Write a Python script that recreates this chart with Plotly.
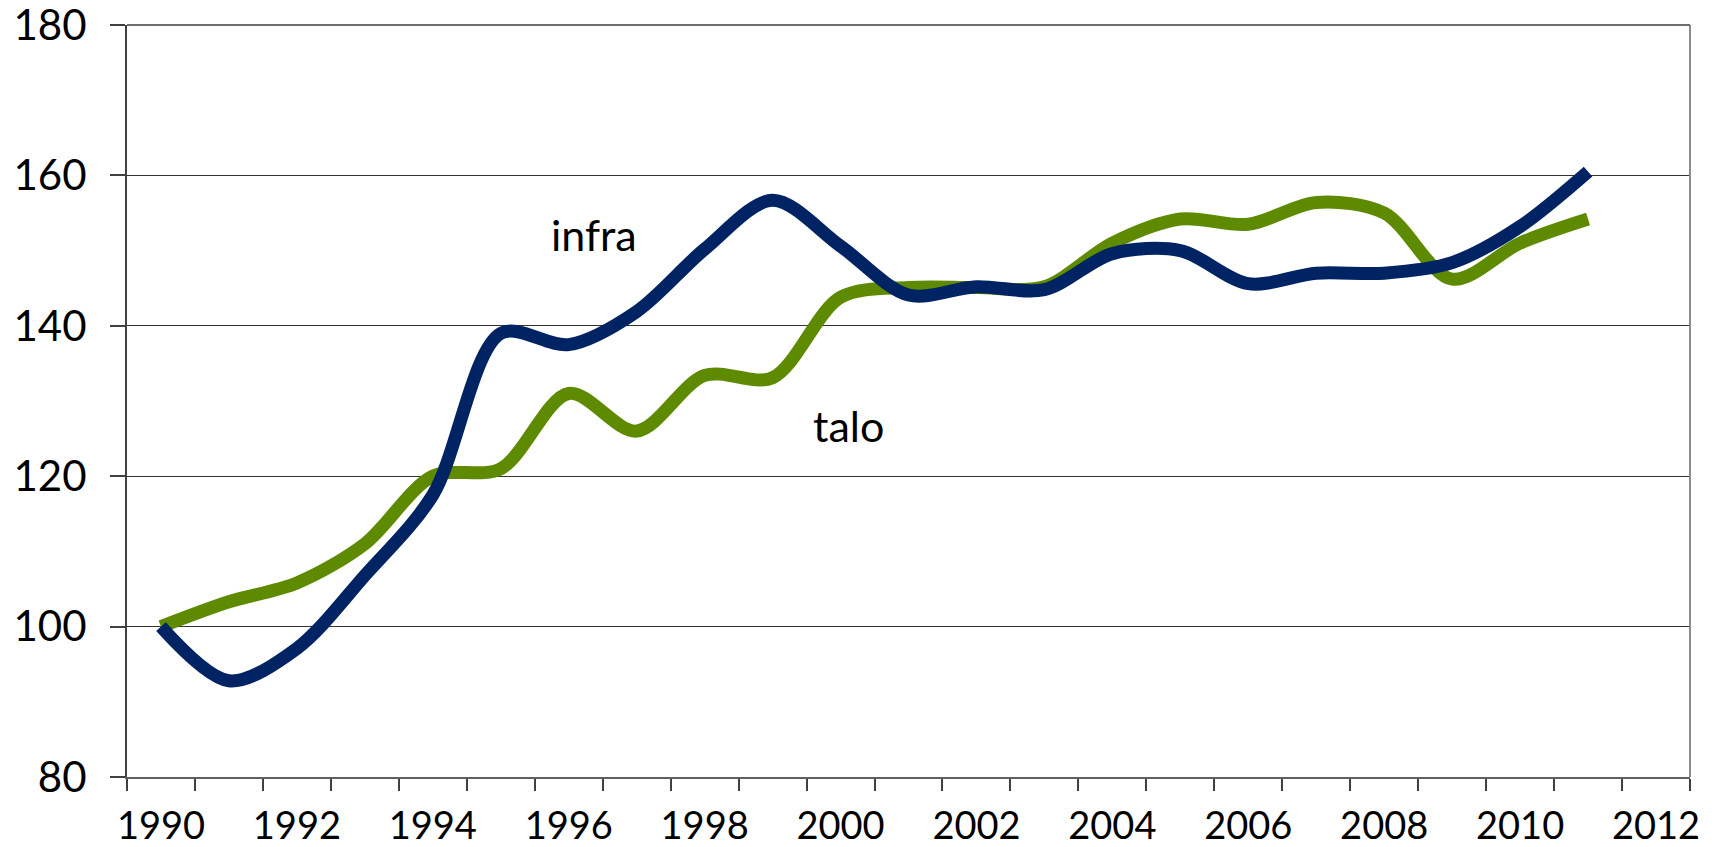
import plotly.graph_objects as go

years = list(range(1990, 2012))
infra = [100, 92.8, 97.1, 106.8, 117.5, 139.0, 137.5, 141.9, 150.2, 156.7, 150.6,
         144.1, 145.2, 144.8, 149.6, 150.0, 145.6, 147.0, 147.0, 148.4, 153.2, 160.5]
talo = [100, 103.3, 105.8, 111.0, 120.0, 121.0, 131.0, 126.0, 133.4, 133.1, 143.8,
        145.1, 145.1, 145.2, 151.0, 154.2, 153.5, 156.4, 155.0, 146.2, 151.0, 154.2]
x_ticks = list(range(1990, 2013, 2))
y_ticks = [80, 100, 120, 140, 160, 180]

FONT = "Lato"

fig = go.Figure()
fig.add_trace(go.Scatter(x=years, y=talo, mode="lines", name="talo",
                         line=dict(color="#5E8A00", width=13, shape="spline", smoothing=0.9)))
fig.add_trace(go.Scatter(x=years, y=infra, mode="lines", name="infra",
                         line=dict(color="#002463", width=13, shape="spline", smoothing=0.9)))

fig.add_annotation(x=1996.37, y=152.1, text="infra", showarrow=False,
                   font=dict(family=FONT, size=43, color="black"))
fig.add_annotation(x=2000.12, y=126.8, text="talo", showarrow=False,
                   font=dict(family=FONT, size=43, color="black"))

# page body has an 8px margin, so the figure is sized to fit inside the window
fig.update_layout(
    width=1700, height=831,
    margin=dict(l=119, r=18, t=17, b=62, autoexpand=False),
    paper_bgcolor="white", plot_bgcolor="white",
    showlegend=False,
    font=dict(family=FONT, color="black"),
)
fig.update_xaxes(
    range=[1989.5, 2012.5], tickvals=x_ticks, ticks="", showgrid=False,
    tickfont=dict(family=FONT, size=38, color="black"), ticklabelstandoff=14,
    ticklabeloverflow="allow",
    showline=True, linecolor="#606060", linewidth=2, mirror=False,
    minor=dict(ticks="outside", tick0=1989.5, dtick=1, ticklen=12, tickwidth=1.5,
               tickcolor="#404040", showgrid=False),
    zeroline=False, fixedrange=True, automargin=False,
)
fig.update_yaxes(
    range=[80, 180], tickvals=y_ticks, ticks="outside", ticklen=15, tickwidth=1.5,
    tickcolor="#404040", ticklabelstandoff=15, ticklabeloverflow="allow",
    tickfont=dict(family=FONT, size=42, color="black"),
    showgrid=True, gridcolor="#333333", gridwidth=1,
    showline=True, linecolor="#404040", linewidth=2,
    zeroline=False, fixedrange=True, automargin=False,
)
# plot-area border (top and right) in grey
fig.add_shape(type="line", xref="paper", yref="paper", x0=1, x1=1, y0=0, y1=1,
              line=dict(color="#8c8c8c", width=2))
fig.add_shape(type="line", xref="paper", yref="paper", x0=0, x1=1, y0=1, y1=1,
              line=dict(color="#6e6e6e", width=2))

fig.write_html("out.html")
